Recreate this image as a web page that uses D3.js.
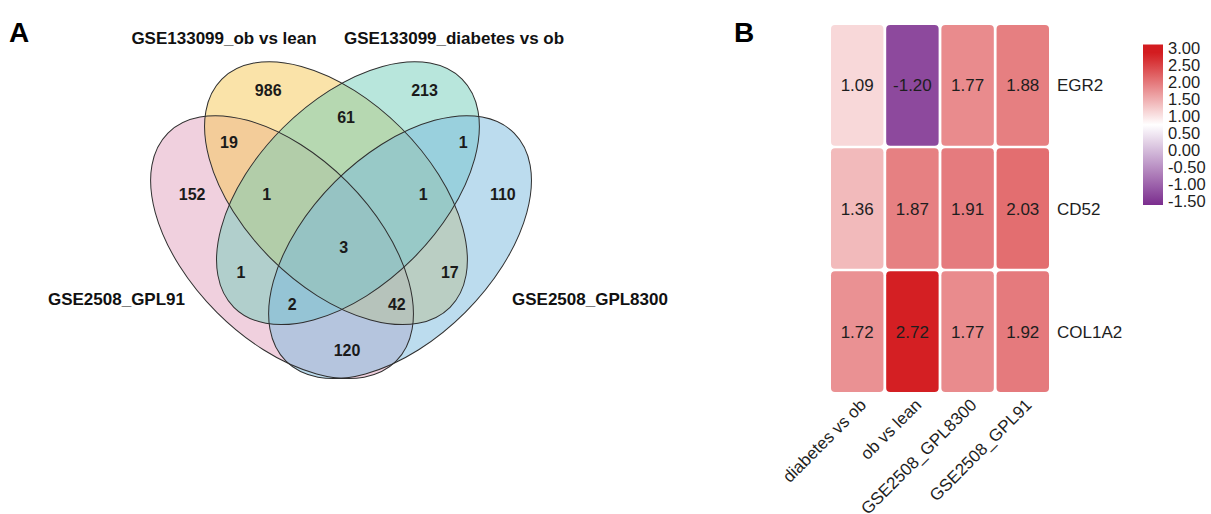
<!DOCTYPE html>
<html>
<head>
<meta charset="utf-8">
<script src="https://cdn.jsdelivr.net/npm/d3@7"></script>
<style>
  body { margin: 0; background: #fff; }
  svg { display: block; font-family: "Liberation Sans", Arial, sans-serif; }
</style>
</head>
<body>
<div id="chart"></div>
<script>
// ---- panel A data: Venn sets and region counts ----
var setNames = ["GSE2508_GPL91", "GSE133099_ob vs lean", "GSE133099_diabetes vs ob", "GSE2508_GPL8300"];
var setKeys = ["P", "Y", "G", "B"];
var regionKeys = ["Y", "G", "P", "B", "YG", "PY", "GB", "PYG", "YGB", "PYGB", "PG", "YB", "PGB", "PYB", "PB"];
var regionCounts = [986, 213, 152, 110, 61, 19, 1, 1, 1, 3, 1, 17, 2, 42, 120];

// ---- panel B data: heatmap ----
var genes = ["EGR2", "CD52", "COL1A2"];
var comparisons = ["diabetes vs ob", "ob vs lean", "GSE2508_GPL8300", "GSE2508_GPL91"];
var egr2Values = [1.09, -1.20, 1.77, 1.88];
var cd52Values = [1.36, 1.87, 1.91, 2.03];
var col1a2Values = [1.72, 2.72, 1.77, 1.92];
var legendTicks = [3.00, 2.50, 2.00, 1.50, 1.00, 0.50, 0.00, -0.50, -1.00, -1.50];

// layout of the 4-set Venn in unit space
var ellipseLayout = {
	P: { cx: 0.371, cy: 0.471, rot: 45, fill: "#e1a1bd" },
	Y: { cx: 0.488, cy: 0.354, rot: 45, fill: "#f5c753" },
	G: { cx: 0.514, cy: 0.354, rot: -45, fill: "#71cdb9" },
	B: { cx: 0.627, cy: 0.471, rot: -45, fill: "#79b9dd" }
};
var ellipseA = 0.35, ellipseB = 0.2;
var regionAnchors = {
	Y: [0.341, 0.130], G: [0.680, 0.130], P: [0.176, 0.356], B: [0.850, 0.356],
	YG: [0.510, 0.189], PY: [0.256, 0.243], GB: [0.764, 0.243],
	PYG: [0.338, 0.356], YGB: [0.677, 0.356], PYGB: [0.505, 0.471],
	PG: [0.282, 0.525], YB: [0.735, 0.525], PGB: [0.393, 0.594],
	PYB: [0.620, 0.594], PB: [0.512, 0.694]
};

const W = 1211, H = 514;
const svg = d3.select("#chart").append("svg")
	.attr("width", W)
	.attr("height", H);

svg.append("rect").attr("width", W).attr("height", H).attr("fill", "#fff");

// ---------- Panel A ----------
const vx = d3.scaleLinear().domain([0, 1]).range([111, 572]);
const vy = d3.scaleLinear().domain([0, 1]).range([30, 491]);
const unit = vx(1) - vx(0);

svg.append("text")
	.attr("x", 9).attr("y", 42)
	.attr("font-size", 28).attr("font-weight", "bold")
	.text("A");

const venn = svg.append("g");

// fills first, outlines on top
setKeys.forEach(k => {
	const e = ellipseLayout[k];
	venn.append("ellipse")
		.attr("cx", 0).attr("cy", 0)
		.attr("rx", ellipseA * unit).attr("ry", ellipseB * unit)
		.attr("transform", "translate(" + vx(e.cx) + "," + vy(e.cy) + ") rotate(" + e.rot + ")")
		.attr("fill", e.fill)
		.attr("fill-opacity", 0.5)
		.attr("stroke", "none");
});
setKeys.forEach(k => {
	const e = ellipseLayout[k];
	venn.append("ellipse")
		.attr("cx", 0).attr("cy", 0)
		.attr("rx", ellipseA * unit).attr("ry", ellipseB * unit)
		.attr("transform", "translate(" + vx(e.cx) + "," + vy(e.cy) + ") rotate(" + e.rot + ")")
		.attr("fill", "none")
		.attr("stroke", "#2f2f2f")
		.attr("stroke-width", 1);
});

venn.selectAll("text.count")
	.data(regionKeys.map((k, i) => ({ key: k, n: regionCounts[i] })))
	.enter().append("text")
	.attr("class", "count")
	.attr("x", d => vx(regionAnchors[d.key][0]))
	.attr("y", d => vy(regionAnchors[d.key][1]))
	.attr("dy", "0.36em")
	.attr("text-anchor", "middle")
	.attr("font-size", 16)
	.attr("font-weight", "bold")
	.attr("fill", "#1a1a1a")
	.text(d => d.n);

// set titles
const titleStyle = sel => sel.attr("font-size", 17).attr("font-weight", "bold").attr("fill", "#111");
svg.append("text").call(titleStyle)
	.attr("x", 224).attr("y", 44).attr("text-anchor", "middle").text(setNames[1]);
svg.append("text").call(titleStyle)
	.attr("x", 454).attr("y", 44).attr("text-anchor", "middle").text(setNames[2]);
svg.append("text").call(titleStyle)
	.attr("x", 185).attr("y", 305).attr("text-anchor", "end").text(setNames[0]);
svg.append("text").call(titleStyle)
	.attr("x", 512).attr("y", 305).attr("text-anchor", "start").text(setNames[3]);

// ---------- Panel B ----------
svg.append("text")
	.attr("x", 734).attr("y", 42)
	.attr("font-size", 28).attr("font-weight", "bold")
	.text("B");

const rowsData = [egr2Values, cd52Values, col1a2Values];
const cells = [];
genes.forEach((g, r) => {
	comparisons.forEach((c, j) => {
		cells.push({ gene: g, comp: c, value: rowsData[r][j] });
	});
});

const x = d3.scaleBand().domain(comparisons).range([831, 1049]).paddingInner(0.05);
const y = d3.scaleBand().domain(genes).range([25, 392]).paddingInner(0.02);
const color = d3.scaleLinear()
	.domain([-1.5, 0.75, 2.75])
	.range(["#7b2d8e", "#ffffff", "#d31c20"])
	.clamp(true);

const heat = svg.append("g");
heat.selectAll("rect.cell")
	.data(cells)
	.enter().append("rect")
	.attr("class", "cell")
	.attr("x", d => x(d.comp))
	.attr("y", d => y(d.gene))
	.attr("width", x.bandwidth())
	.attr("height", y.bandwidth())
	.attr("rx", 4).attr("ry", 4)
	.attr("fill", d => color(d.value));

heat.selectAll("text.val")
	.data(cells)
	.enter().append("text")
	.attr("class", "val")
	.attr("x", d => x(d.comp) + x.bandwidth() / 2)
	.attr("y", d => y(d.gene) + y.bandwidth() / 2)
	.attr("dy", "0.36em")
	.attr("text-anchor", "middle")
	.attr("font-size", 17)
	.attr("fill", "#1e1e1e")
	.text(d => d.value.toFixed(2));

// row labels
heat.selectAll("text.row")
	.data(genes)
	.enter().append("text")
	.attr("class", "row")
	.attr("x", 1057)
	.attr("y", d => y(d) + y.bandwidth() / 2)
	.attr("dy", "0.36em")
	.attr("font-size", 17)
	.attr("fill", "#1e1e1e")
	.text(d => d);

// column labels, rotated
heat.selectAll("text.col")
	.data(comparisons)
	.enter().append("text")
	.attr("class", "col")
	.attr("transform", d => "translate(" + (x(d) + x.bandwidth() / 2 + 10) + ",406) rotate(-45)")
	.attr("text-anchor", "end")
	.attr("font-size", 17)
	.attr("fill", "#1e1e1e")
	.text(d => d);

// colour legend
const ly = d3.scaleLinear().domain([-1.5, 3]).range([201, 48.5]);
const grad = svg.append("defs").append("linearGradient")
	.attr("id", "legendGrad")
	.attr("x1", 0).attr("y1", 1).attr("x2", 0).attr("y2", 0);
d3.range(0, 1.0001, 0.05).forEach(t => {
	const v = -1.5 + t * 4.5;
	grad.append("stop").attr("offset", t).attr("stop-color", color(v));
});
svg.append("rect")
	.attr("x", 1143).attr("y", ly(3) - 4)
	.attr("width", 20).attr("height", ly(-1.5) - ly(3) + 8)
	.attr("fill", "url(#legendGrad)");

svg.selectAll("text.leg")
	.data(legendTicks)
	.enter().append("text")
	.attr("class", "leg")
	.attr("x", 1168)
	.attr("y", d => ly(d))
	.attr("dy", "0.36em")
	.attr("font-size", 16.5)
	.attr("fill", "#1e1e1e")
	.text(d => d.toFixed(2));
</script>
</body>
</html>
